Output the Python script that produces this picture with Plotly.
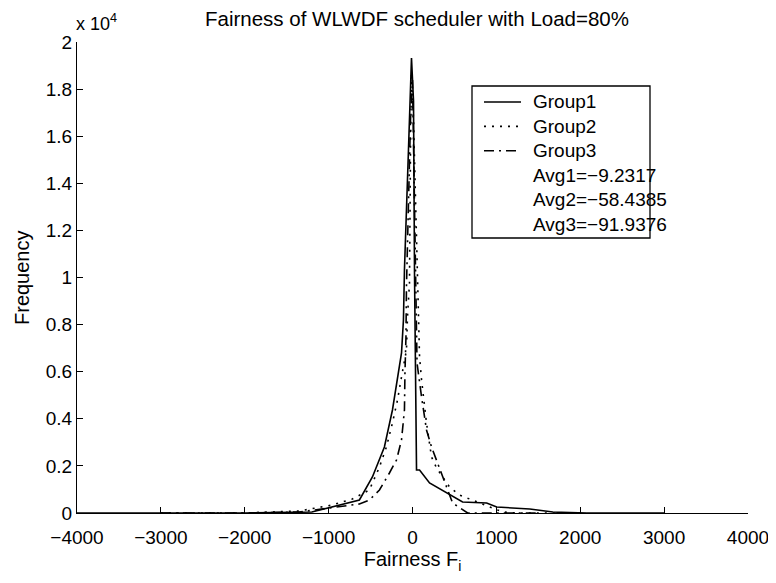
import plotly.graph_objects as go

# Group1 (solid)
g1_x = [-4000, -3000, -2000, -1200, -956, -717, -633, -478, -335, -239, -179, -131, -108, -96, -48, -12, 12, 24, 48, 84, 203, 406, 597, 884, 1004, 1398, 1673, 2079, 3000]
g1_y = [0, 0, 0, 40, 255, 467, 552, 1529, 2803, 4374, 5648, 6794, 8195, 10318, 15414, 19320, 17500, 10190, 1826, 1826, 1274, 849, 467, 425, 255, 170, 40, 0, 0]

# Group2 (dotted)
g2_x = [-3000, -2031, -1350, -956, -717, -514, -394, -311, -239, -179, -131, -72, -60, -36, -24, -12, 12, 48, 84, 108, 167, 227, 287, 442, 562, 681, 1075, 1243, 2000]
g2_y = [0, 0, 85, 340, 595, 977, 1953, 2803, 3822, 4798, 5775, 6921, 8323, 9766, 15414, 18600, 16700, 11170, 6624, 5648, 3822, 2378, 1911, 1104, 764, 595, 42, 0, 0]

# Group3 (dash-dot)
g3_x = [-3000, -2031, -1350, -956, -633, -514, -394, -275, -191, -131, -96, -90, -78, -72, -48, -24, 0, 24, 36, 54, 108, 167, 227, 358, 478, 657, 1500]
g3_y = [0, 0, 42, 212, 382, 552, 977, 1699, 2250, 3100, 4374, 5945, 7473, 9597, 13290, 16690, 18390, 13716, 10318, 6369, 4926, 3524, 2803, 1529, 425, 0, 0]

series_names = ["Group1", "Group2", "Group3"]
avg_labels = ["Avg1=\u22129.2317", "Avg2=\u221258.4385", "Avg3=\u221291.9376"]

x_ticks = [-4000, -3000, -2000, -1000, 0, 1000, 2000, 3000, 4000]
x_ticktext = ["\u22124000", "\u22123000", "\u22122000", "\u22121000", "0", "1000", "2000", "3000", "4000"]
y_ticks = [0, 2000, 4000, 6000, 8000, 10000, 12000, 14000, 16000, 18000, 20000]
y_ticktext = ["0", "0.2", "0.4", "0.6", "0.8", "1", "1.2", "1.4", "1.6", "1.8", "2"]

FONT = "Liberation Sans, Arial, Helvetica, sans-serif"
DASHES = ["solid", "2px,6px", "10px,5px,2px,5px"]

# target plot area on screen (page body adds an 8px offset)
OFF = 8
L, R, T, B = 77, 748, 42, 513
W, H = 776, 583
def px(x):
    return (x - L) / (R - L)
def py(y):
    return (B - y) / (B - T)

fig = go.Figure()
for xs, ys, nm, ds in zip([g1_x, g2_x, g3_x], [g1_y, g2_y, g3_y], series_names, DASHES):
    fig.add_trace(go.Scatter(x=xs, y=ys, mode="lines", name=nm, showlegend=False,
                             line=dict(color="black", width=1.6, dash=ds)))

shapes = [dict(type="rect", xref="paper", yref="paper", x0=px(472), x1=px(650),
               y0=py(238), y1=py(86), line=dict(color="black", width=1.3),
               fillcolor="white", layer="above")]
annotations = []
rows = series_names + avg_labels
for i, lab in enumerate(rows):
    yc = 102 + i * 24.4
    if i < 3:
        shapes.append(dict(type="line", xref="paper", yref="paper", x0=px(484), x1=px(521),
                           y0=py(yc), y1=py(yc), layer="above",
                           line=dict(color="black", width=1.6, dash=DASHES[i])))
    annotations.append(dict(text=lab, xref="paper", yref="paper", x=px(531), y=py(yc),
                            xanchor="left", yanchor="middle", showarrow=False,
                            font=dict(size=19)))

annotations.append(dict(text="x 10<sup>4</sup>", xref="paper", yref="paper", x=0.0, y=1.0,
                        xanchor="left", yanchor="bottom", yshift=6, xshift=-3, showarrow=False,
                        font=dict(size=18)))
annotations.append(dict(text="Frequency", xref="paper", yref="paper", x=px(22), y=py(278),
                        xanchor="center", yanchor="middle", textangle=-90, showarrow=False,
                        font=dict(size=20)))

fig.update_layout(
    width=W, height=H,
    margin=dict(l=L - OFF, r=W - (R - OFF), t=T - OFF, b=H - (B - OFF)),
    paper_bgcolor="white", plot_bgcolor="white",
    font=dict(family=FONT, size=19, color="black"),
    title=dict(text="Fairness of WLWDF scheduler with Load=80%", x=(417 - OFF) / W, xanchor="center",
               y=1.0, yanchor="top", pad=dict(t=4), font=dict(size=20.5)),
    showlegend=False,
    xaxis=dict(range=[-4000, 4000], tickvals=x_ticks, ticktext=x_ticktext,
               showgrid=False, zeroline=False, showline=True, linecolor="black", linewidth=1.3,
               ticks="inside", ticklen=6, tickcolor="black", tickwidth=1.3,
               tickfont=dict(size=19), ticklabelstandoff=7,
               title=dict(text="Fairness F<sub>i</sub>", font=dict(size=20), standoff=5)),
    yaxis=dict(range=[0, 20000], tickvals=y_ticks, ticktext=y_ticktext,
               showgrid=False, zeroline=False, showline=True, linecolor="black", linewidth=1.3,
               ticks="inside", ticklen=6, tickcolor="black", tickwidth=1.3,
               tickfont=dict(size=19)),
    shapes=shapes,
    annotations=annotations,
)

fig.write_html("out.html")
